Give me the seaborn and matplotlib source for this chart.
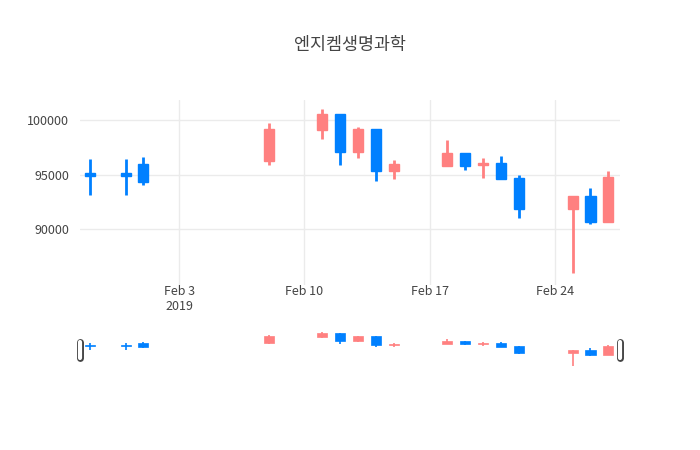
import matplotlib
matplotlib.use("Agg")
import matplotlib.pyplot as plt
import matplotlib.dates as mdates
import seaborn as sns
import pandas as pd
import numpy as np

dates = ["2019-01-29","2019-01-31","2019-02-01","2019-02-08","2019-02-11","2019-02-12","2019-02-13",
         "2019-02-14","2019-02-15","2019-02-18","2019-02-19","2019-02-20","2019-02-21","2019-02-22",
         "2019-02-25","2019-02-26","2019-02-27"]
opens  = [95100, 95100, 96000, 96270, 99050, 100550, 97050, 99200, 95350, 95800, 96950, 95850, 96100, 94700, 91850, 93050, 90600]
highs  = [96400, 96400, 96600, 99700, 101000, 100550, 99400, 99200, 96300, 98150, 96950, 96500, 96700, 94950, 93050, 93800, 95300]
lows   = [93100, 93100, 94000, 95850, 98300, 95900, 96550, 94450, 94550, 95800, 95400, 94700, 94550, 91050, 86000, 90500, 90600]
closes = [94900, 94900, 94300, 99200, 100550, 97050, 99200, 95350, 95950, 96950, 95800, 96100, 94550, 91850, 93050, 90600, 94750]
title = "엔지켐생명과학"

sns.set_theme(style="whitegrid")
plt.rcParams['font.family'] = ['Noto Sans CJK KR', 'DejaVu Sans']

df = pd.DataFrame({"date": pd.to_datetime(dates), "open": opens, "high": highs, "low": lows, "close": closes})
x = mdates.date2num(df["date"])
up = df["close"] >= df["open"]
RED, BLUE = "#FF8080", "#0080FF"
colors = np.where(up, RED, BLUE)

fig = plt.figure(figsize=(7, 4.5), dpi=100)
ax = fig.add_axes([80/700, 1-285/450, 540/700, 185/450])
sl = fig.add_axes([80/700, 1-368/450, 540/700, 38/450])

def draw(a, lw, wick):
    bottom = np.minimum(df["open"], df["close"])
    height = np.abs(df["close"] - df["open"]).clip(lower=150)
    a.vlines(x, df["low"], df["high"], colors=colors, linewidth=wick, zorder=2)
    a.bar(x, height, bottom=bottom, width=0.56, color=colors, edgecolor=colors, linewidth=lw, zorder=3)

draw(ax, 1, 2)
draw(sl, 0.5, 1.2)
xmin, xmax = x.min() - 0.55, x.max() + 0.65
for a in (ax, sl):
    a.set_xlim(xmin, xmax)
    a.set_facecolor("white")
ax.set_ylim(84865, 101835)
ax.set_yticks([90000, 95000, 100000])
ax.set_yticklabels(["90000", "95000", "100000"])
ticks = mdates.date2num(pd.to_datetime(["2019-02-03","2019-02-10","2019-02-17","2019-02-24"]))
ax.set_xticks(ticks)
ax.set_xticklabels(["Feb 3\n2019", "Feb 10", "Feb 17", "Feb 24"])
ax.grid(True, color="#ebebeb", linewidth=1)
for s in ax.spines.values():
    s.set_visible(False)
ax.tick_params(axis="y", length=0, labelsize=9, colors="#444444", pad=8)
ax.tick_params(axis="x", length=0, labelsize=9, colors="#444444", pad=0)
ax.set_xlabel(""); ax.set_ylabel("")

sl.set_ylim(85000, 102000)
sl.set_xticks([]); sl.set_yticks([])
sl.grid(False)
for s in sl.spines.values():
    s.set_visible(False)
for hx in (xmin, xmax):
    sl.plot([hx, hx], [89500, 96500], color="#444444", linewidth=5, solid_capstyle="round", zorder=4, clip_on=False)
    sl.plot([hx, hx], [89500, 96500], color="white", linewidth=3, solid_capstyle="round", zorder=5, clip_on=False)

fig.text(350/700, 1-45/450, title, ha="center", va="center", fontsize=12.5, color="#444444")
fig.savefig("out.png", dpi=100, facecolor="white")
